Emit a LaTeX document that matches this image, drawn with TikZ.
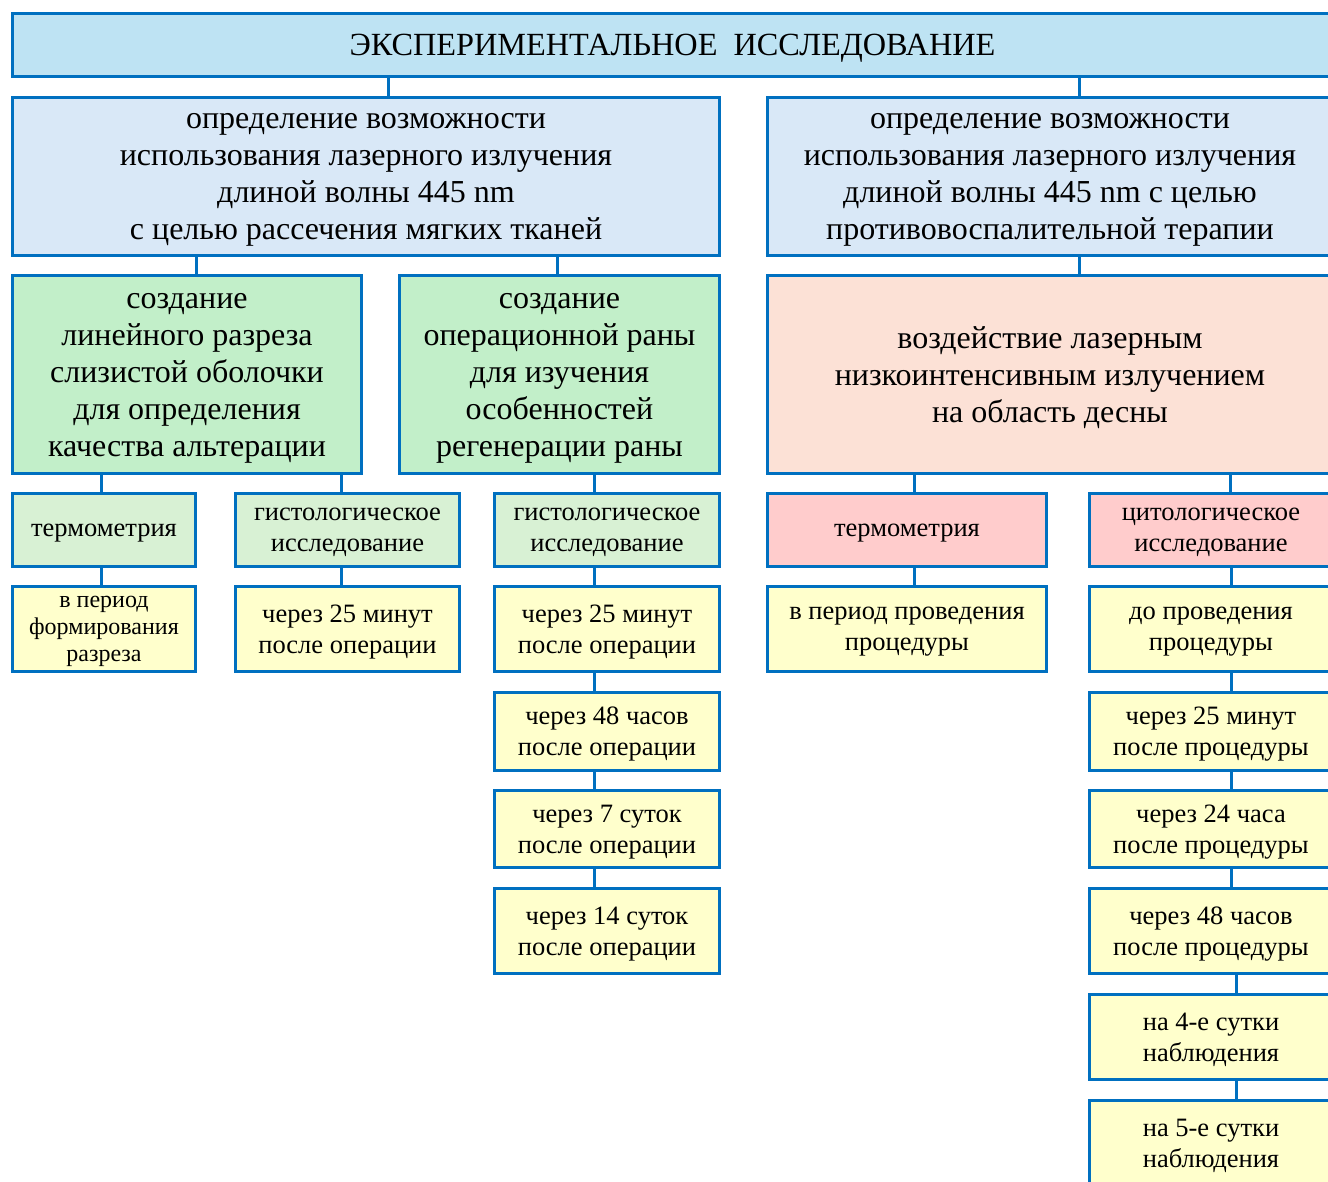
\documentclass[tikz,border=0pt]{standalone}
\usepackage{fontspec}
\setmainfont{Liberation Serif}
\definecolor{frame}{HTML}{0070C0}
\definecolor{headfill}{HTML}{BEE3F3}
\definecolor{aimfill}{HTML}{D9E8F7}
\definecolor{greenbig}{HTML}{C2EFC9}
\definecolor{greensmall}{HTML}{D8F1D4}
\definecolor{pinkbig}{HTML}{FCE1D6}
\definecolor{pinksmall}{HTML}{FFCCCC}
\definecolor{timefill}{HTML}{FFFFCC}
\newcommand\fshead{\fontsize{32.3pt}{37pt}\selectfont}
\newcommand\fsbig{\fontsize{32pt}{37pt}\selectfont}
\newcommand\fssmall{\fontsize{26.5pt}{31pt}\selectfont}
\newcommand\fstiny{\fontsize{24pt}{27pt}\selectfont}

\begin{document}
\begin{tikzpicture}[x=1pt, y=-1pt,
    box/.style={draw=frame, line width=3pt, align=center, inner sep=0pt, text depth=0pt},
    link/.style={draw=frame, line width=3pt}]
    \useasboundingbox (0,0) rectangle (1328,1182);

    \node[box, fill=headfill, minimum width=1320pt, minimum height=63pt, font=\fshead] (title) at (672.5,45) {ЭКСПЕРИМЕНТАЛЬНОЕ\ \ ИССЛЕДОВАНИЕ};

    \node[box, fill=aimfill, minimum width=707pt, minimum height=158pt, font=\fsbig] (A) at (366,176.5) {определение возможности\\использования лазерного излучения\\длиной волны 445 nm\\с целью рассечения мягких тканей};
    \node[box, fill=aimfill, minimum width=565pt, minimum height=158pt, font=\fsbig] (B) at (1050,176.5) {определение возможности\\использования лазерного излучения\\длиной волны 445 nm с целью\\противовоспалительной терапии};

    \node[box, fill=greenbig, minimum width=349pt, minimum height=198pt, font=\fsbig] (G1) at (187,374.5) {создание\\линейного разреза\\слизистой оболочки\\для определения\\качества альтерации};
    \node[box, fill=greenbig, minimum width=320pt, minimum height=198pt, font=\fsbig] (G2) at (559.5,374.5) {создание\\операционной раны\\для изучения\\особенностей\\регенерации раны};
    \node[box, fill=pinkbig, minimum width=565pt, minimum height=198pt, font=\fsbig] (P) at (1050,374.5) {воздействие лазерным\\низкоинтенсивным излучением\\на область десны};

    \node[box, fill=greensmall, minimum width=183pt, minimum height=73pt, font=\fssmall] (T1) at (104,530) {термометрия};
    \node[box, fill=greensmall, minimum width=224pt, minimum height=73pt, font=\fssmall] (H1) at (347.5,530) {гистологическое\\исследование};
    \node[box, fill=greensmall, minimum width=225pt, minimum height=73pt, font=\fssmall] (H2) at (607,530) {гистологическое\\исследование};
    \node[box, fill=pinksmall, minimum width=279pt, minimum height=73pt, font=\fssmall] (T2) at (907,530) {термометрия};
    \node[box, fill=pinksmall, minimum width=243pt, minimum height=73pt, font=\fssmall] (Z) at (1211,530) {цитологическое\\исследование};

    \node[box, fill=timefill, minimum width=183pt, minimum height=85pt, font=\fstiny] (Y1) at (104,629) {в период\\формирования\\разреза};
    \node[box, fill=timefill, minimum width=224pt, minimum height=85pt, font=\fssmall] (Y2) at (347.5,629) {через 25 минут\\после операции};
    \node[box, fill=timefill, minimum width=279pt, minimum height=85pt, font=\fssmall] (Y3) at (907,629) {в период проведения\\процедуры};

    \node[box, fill=timefill, minimum width=225pt, minimum height=85pt, font=\fssmall] (c1) at (607,629) {через 25 минут\\после операции};
    \node[box, fill=timefill, minimum width=225pt, minimum height=78pt, font=\fssmall] (c2) at (607,731.5) {через 48 часов\\после операции};
    \node[box, fill=timefill, minimum width=225pt, minimum height=77pt, font=\fssmall] (c3) at (607,829) {через 7 суток\\после операции};
    \node[box, fill=timefill, minimum width=225pt, minimum height=85pt, font=\fssmall] (c4) at (607,931) {через 14 суток\\после операции};

    \node[box, fill=timefill, minimum width=243pt, minimum height=85pt, font=\fssmall] (r1) at (1211,629) {до проведения\\процедуры};
    \node[box, fill=timefill, minimum width=243pt, minimum height=78pt, font=\fssmall] (r2) at (1211,731.5) {через 25 минут\\после процедуры};
    \node[box, fill=timefill, minimum width=243pt, minimum height=77pt, font=\fssmall] (r3) at (1211,829) {через 24 часа\\после процедуры};
    \node[box, fill=timefill, minimum width=243pt, minimum height=85pt, font=\fssmall] (r4) at (1211,931) {через 48 часов\\после процедуры};
    \node[box, fill=timefill, minimum width=243pt, minimum height=85pt, font=\fssmall] (r5) at (1211,1037) {на 4-е сутки\\наблюдения};
    \node[box, fill=timefill, minimum width=243pt, minimum height=85pt, font=\fssmall] (r6) at (1211,1143) {на 5-е сутки\\наблюдения};

    \path [link] (title.south -| 388,0) edge (A.north -| 388,0);
    \path [link] (title.south -| 1079,0) edge (B.north -| 1079,0);
    \path [link] (A.south -| 196,0) edge (G1.north -| 196,0);
    \path [link] (A.south -| 557,0) edge (G2.north -| 557,0);
    \path [link] (B.south -| 1079,0) edge (P.north -| 1079,0);
    \path [link] (G1.south -| 101,0) edge (T1.north -| 101,0);
    \path [link] (G1.south -| 341,0) edge (H1.north -| 341,0);
    \path [link] (T1.south -| 101,0) edge (Y1.north -| 101,0);
    \path [link] (H1.south -| 341,0) edge (Y2.north -| 341,0);
    \path [link] (G2.south -| 594,0) edge (H2.north -| 594,0);
    \path [link] (H2.south -| 594,0) edge (c1.north -| 594,0);
    \path [link] (c1.south -| 594,0) edge (c2.north -| 594,0);
    \path [link] (c2.south -| 594,0) edge (c3.north -| 594,0);
    \path [link] (c3.south -| 594,0) edge (c4.north -| 594,0);
    \path [link] (P.south -| 914,0) edge (T2.north -| 914,0);
    \path [link] (T2.south -| 914,0) edge (Y3.north -| 914,0);
    \path [link] (P.south -| 1230,0) edge (Z.north -| 1230,0);
    \path [link] (Z.south -| 1231,0) edge (r1.north -| 1231,0);
    \path [link] (r1.south -| 1231,0) edge (r2.north -| 1231,0);
    \path [link] (r2.south -| 1231,0) edge (r3.north -| 1231,0);
    \path [link] (r3.south -| 1231,0) edge (r4.north -| 1231,0);
    \path [link] (r4.south -| 1236,0) edge (r5.north -| 1236,0);
    \path [link] (r5.south -| 1236,0) edge (r6.north -| 1236,0);

\end{tikzpicture}
\end{document}
